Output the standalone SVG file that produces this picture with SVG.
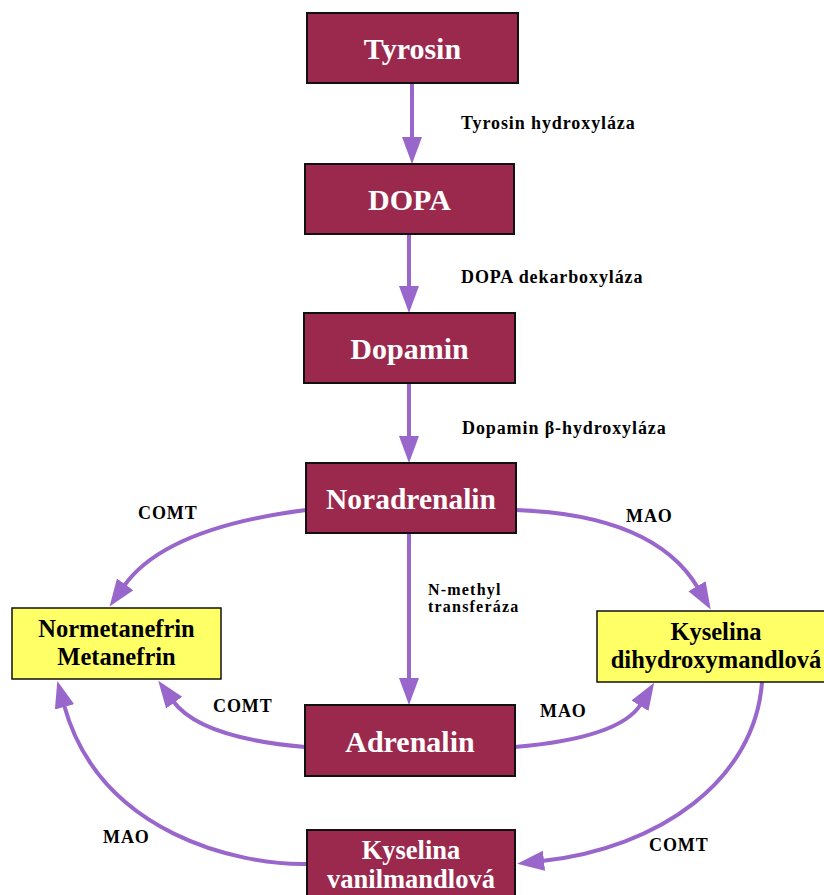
<svg xmlns="http://www.w3.org/2000/svg" width="824" height="895" viewBox="0 0 824 895">
<defs>
<style>
.box{fill:#9B284D;stroke:#111;stroke-width:2}
.ybox{fill:#FFFF66;stroke:#111;stroke-width:1.5}
.bt{font-family:"Liberation Serif","Times New Roman",serif;font-weight:bold;fill:#fff;text-anchor:middle}
.yt{font-family:"Liberation Serif","Times New Roman",serif;font-weight:bold;fill:#000;text-anchor:middle;font-size:24.5px}
.lbl{font-family:"Liberation Serif","Times New Roman",serif;font-weight:bold;fill:#000;font-size:18px;letter-spacing:0.9px}
.sm{font-family:"Liberation Serif","Times New Roman",serif;font-weight:bold;fill:#000;font-size:16px;letter-spacing:1.2px}
.ar{fill:none;stroke:#9966CC;stroke-width:4;marker-end:url(#ah)}
</style>
<marker id="ah" markerUnits="userSpaceOnUse" markerWidth="28" markerHeight="22" refX="2" refY="10" orient="auto" viewBox="0 0 28 20">
<path d="M0,0 L27,10 L0,20 z" fill="#9966CC"/>
</marker>
</defs>
<rect width="824" height="895" fill="#fff"/>
<g id="connectors">
<path class="ar" d="M412,84 L412,139"/>
<path class="ar" d="M409,234 L409,288"/>
<path class="ar" d="M409,383 L409,438"/>
<path class="ar" d="M409,533 L409,680"/>
<path class="ar" d="M306,510 Q165,528 124,586"/>
<path class="ar" d="M516,510 Q655,515 698,588"/>
<path class="ar" d="M305,747 Q200,738 173,701"/>
<path class="ar" d="M515,747 Q620,738 641,704"/>
<path class="ar" d="M306,864 C240,865 100,835 64,705"/>
<path class="ar" d="M762,682 C755,780 660,848 542,861"/>
</g>
<g id="labels">
<text class="lbl" x="461" y="129">Tyrosin hydroxyláza</text>
<text class="lbl" x="461" y="283">DOPA dekarboxyláza</text>
<text class="lbl" x="462" y="434">Dopamin β-hydroxyláza</text>
<text class="sm" x="428" y="595">N-methyl</text>
<text class="sm" x="428" y="612">transferáza</text>
<text class="lbl" x="138" y="519">COMT</text>
<text class="lbl" x="626" y="522">MAO</text>
<text class="lbl" x="213" y="712">COMT</text>
<text class="lbl" x="540" y="717">MAO</text>
<text class="lbl" x="103" y="843">MAO</text>
<text class="lbl" x="649" y="851">COMT</text>
</g>
<g id="tyrosin"><rect class="box" x="307" y="13" width="211" height="70"/><text class="bt" x="412.5" y="59" font-size="30">Tyrosin</text></g>
<g id="dopa"><rect class="box" x="305" y="164" width="209" height="70"/><text class="bt" x="409.5" y="210" font-size="30">DOPA</text></g>
<g id="dopamin"><rect class="box" x="304" y="313" width="211" height="70"/><text class="bt" x="409.5" y="359" font-size="30">Dopamin</text></g>
<g id="noradrenalin"><rect class="box" x="306" y="463" width="210" height="70"/><text class="bt" x="411" y="509" font-size="29.5">Noradrenalin</text></g>
<g id="adrenalin"><rect class="box" x="305" y="705" width="210" height="71"/><text class="bt" x="410" y="752" font-size="30">Adrenalin</text></g>
<g id="vanilmandlova"><rect class="box" x="307" y="830" width="208" height="72"/><text class="bt" x="411" y="859" font-size="26.5">Kyselina</text><text class="bt" x="411" y="888" font-size="26.5">vanilmandlová</text></g>
<g id="normetanefrin"><rect class="ybox" x="12" y="608" width="209" height="71"/><text class="yt" x="116.5" y="637">Normetanefrin</text><text class="yt" x="116.5" y="665">Metanefrin</text></g>
<g id="dihydroxymandlova"><rect class="ybox" x="597" y="611" width="233" height="71"/><text class="yt" x="716" y="640">Kyselina</text><text class="yt" x="716" y="668">dihydroxymandlová</text></g>
</svg>
